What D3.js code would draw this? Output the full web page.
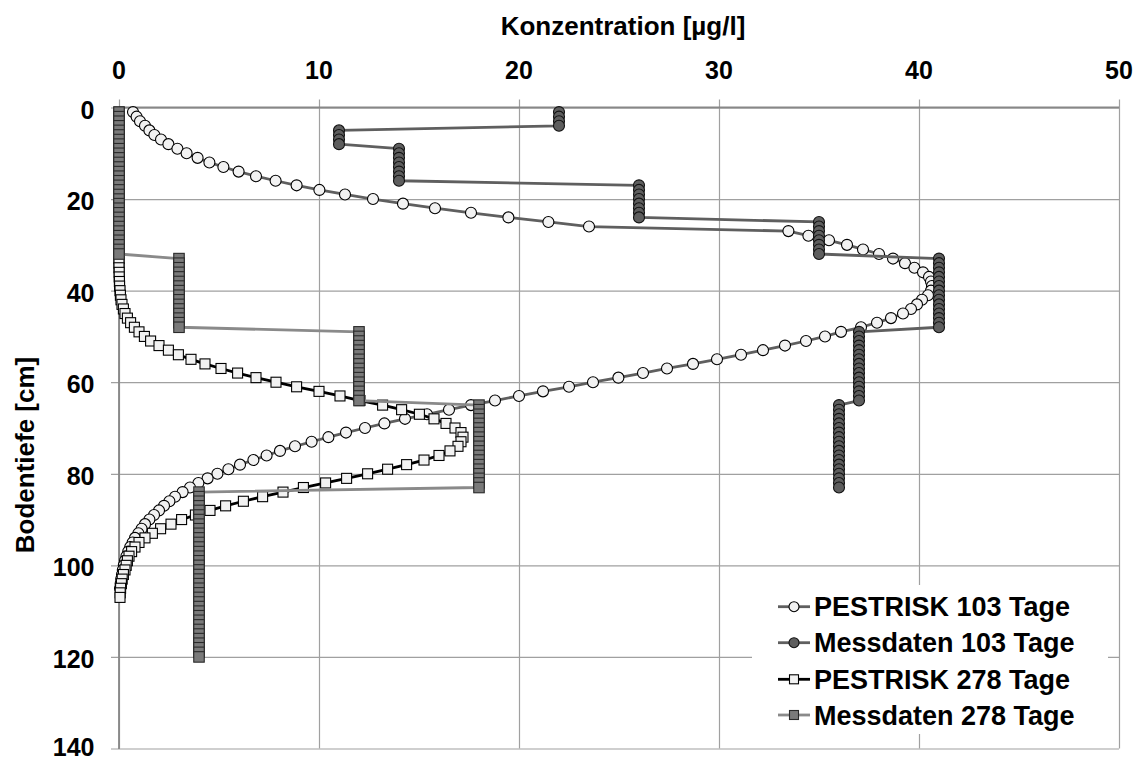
<!DOCTYPE html>
<html>
<head>
<meta charset="utf-8">
<script src="https://cdn.jsdelivr.net/npm/d3@7"></script>
<style>
  html, body { margin: 0; padding: 0; background: #fff; }
  svg { display: block; font-family: "Liberation Sans", Arial, sans-serif; }
</style>
</head>
<body>
<svg id="chart" width="1141" height="760"></svg>
<script>
// ---------------- DATA ----------------
const xTitle = "Konzentration [µg/l]";
const yTitle = "Bodentiefe [cm]";
const xTicks = [0, 10, 20, 30, 40, 50];
const yTicks = [0, 20, 40, 60, 80, 100, 120, 140];
const seriesNames = ["PESTRISK 103 Tage", "Messdaten 103 Tage", "PESTRISK 278 Tage", "Messdaten 278 Tage"];

// depth [cm] for each value (index i -> depth i+1)
const depthCm = [
  1,2,3,4,5,6,7,8,9,10,11,12,13,14,15,16,17,18,19,20,
  21,22,23,24,25,26,27,28,29,30,31,32,33,34,35,36,37,38,39,40,
  41,42,43,44,45,46,47,48,49,50,51,52,53,54,55,56,57,58,59,60,
  61,62,63,64,65,66,67,68,69,70,71,72,73,74,75,76,77,78,79,80,
  81,82,83,84,85,86,87,88,89,90,91,92,93,94,95,96,97,98,99,100,
  101,102,103,104,105,106,107,108,109,110,111,112,113,114,115,116,117,118,119,120
];

// PESTRISK 103 Tage (depth 1..105)
const pestrisk103 = [
  0.7,0.88,1.05,1.3,1.52,1.77,2.1,2.47,2.92,3.38,3.93,4.52,5.22,5.98,6.85,7.83,8.88,10.02,11.3,12.7,
  14.2,15.8,17.6,19.47,21.47,23.5,33.47,34.47,35.5,36.4,37.2,38.0,38.7,39.3,39.77,40.2,40.5,40.6,40.65,40.6,
  40.45,40.15,39.9,39.6,39.2,38.6,37.9,37.1,36.1,35.3,34.35,33.3,32.2,31.1,29.9,28.7,27.4,26.2,24.97,23.7,
  22.5,21.2,20.0,18.8,17.6,16.5,15.4,14.3,13.27,12.3,11.35,10.47,9.63,8.8,8.05,7.38,6.72,6.05,5.47,4.92,
  4.43,3.97,3.55,3.18,2.8,2.52,2.25,2.0,1.75,1.52,1.3,1.13,0.97,0.8,0.68,0.56,0.46,0.37,0.3,0.24,
  0.19,0.15,0.11,0.08,0.05
];

// Messdaten 103 Tage (depth 1..83)
const mess103 = [
  22,22,22,22,11,11,11,11,14,14,14,14,14,14,14,14,26,26,26,26,
  26,26,26,26,35,35,35,35,35,35,35,35,41,41,41,41,41,41,41,41,
  41,41,41,41,41,41,41,41,37,37,37,37,37,37,37,37,37,37,37,37,
  37,37,37,37,36,36,36,36,36,36,36,36,36,36,36,36,36,36,36,36,
  36,36,36
];

// PESTRISK 278 Tage (depth 1..107)
const pestrisk278 = [
  0,0,0,0,0,0,0,0,0,0,0,0,0,0,0,0,0,0,0,0,
  0,0,0,0,0,0,0,0,0,0,0,0,0,0,0,0.01,0.01,0.02,0.03,0.05,
  0.07,0.1,0.15,0.22,0.3,0.42,0.58,0.77,1.0,1.27,1.58,2.0,2.47,2.97,3.6,4.3,5.1,5.93,6.85,7.85,
  8.88,10.0,11.05,12.05,13.18,14.13,15.02,15.75,16.35,16.8,17.1,17.2,17.1,16.95,16.55,16.0,15.25,14.38,13.43,12.43,
  11.38,10.33,9.22,8.2,7.18,6.22,5.33,4.55,3.82,3.13,2.6,2.08,1.67,1.3,1.0,0.8,0.63,0.5,0.42,0.36,
  0.3,0.22,0.16,0.12,0.08,0.06,0.05
];

// Messdaten 278 Tage (depth 1..120)
const mess278 = [
  0,0,0,0,0,0,0,0,0,0,0,0,0,0,0,0,0,0,0,0,
  0,0,0,0,0,0,0,0,0,0,0,0,3,3,3,3,3,3,3,3,
  3,3,3,3,3,3,3,3,12,12,12,12,12,12,12,12,12,12,12,12,
  12,12,12,12,18,18,18,18,18,18,18,18,18,18,18,18,18,18,18,18,
  18,18,18,4,4,4,4,4,4,4,4,4,4,4,4,4,4,4,4,4,
  4,4,4,4,4,4,4,4,4,4,4,4,4,4,4,4,4,4,4,4
];

// ---------------- CHART ----------------
const svg = d3.select("#chart");
const plot = { left: 119, right: 1119, top: 107.5, bottom: 748.5 };

const x = d3.scaleLinear().domain([0, 50]).range([plot.left, plot.right]);
const y = d3.scaleLinear().domain([0, 140]).range([plot.top, plot.bottom]);

const gridCol = "#a0a0a0";
const axisCol = "#878787";

// vertical gridlines + top tick marks
const gx = svg.append("g").attr("transform", `translate(0,${plot.top})`)
  .call(d3.axisTop(x).tickValues(xTicks).tickSizeInner(8).tickSizeOuter(0).tickFormat(""));
gx.selectAll(".tick line").attr("y1", plot.bottom - plot.top).attr("stroke", gridCol).attr("stroke-width", 1.2);
gx.select(".domain").remove();

// horizontal gridlines + left tick marks
const gy = svg.append("g").attr("transform", `translate(${plot.left},0)`)
  .call(d3.axisLeft(y).tickValues(yTicks).tickSizeInner(8).tickSizeOuter(0).tickFormat(""));
gy.selectAll(".tick line").attr("x1", plot.right - plot.left).attr("stroke", gridCol).attr("stroke-width", 1.2);
gy.select(".domain").remove();

// axis lines
svg.append("line").attr("x1", plot.left).attr("x2", plot.right).attr("y1", plot.top).attr("y2", plot.top)
  .attr("stroke", axisCol).attr("stroke-width", 1.8);
svg.append("line").attr("x1", plot.left).attr("x2", plot.left).attr("y1", plot.top).attr("y2", plot.bottom + 0.5)
  .attr("stroke", axisCol).attr("stroke-width", 1.8);

// tick labels
svg.append("g").selectAll("text").data(xTicks).join("text")
  .attr("x", d => x(d)).attr("y", 78.5)
  .attr("text-anchor", "middle").attr("font-size", 25).attr("font-weight", "bold").attr("fill", "#000")
  .text(d => d);
svg.append("g").selectAll("text").data(yTicks).join("text")
  .attr("x", 94.5).attr("y", d => Math.min(y(d) + 11, 756))
  .attr("text-anchor", "end").attr("font-size", 25).attr("font-weight", "bold").attr("fill", "#000")
  .text(d => d);

// titles
svg.append("text").attr("x", 623).attr("y", 34.5).attr("text-anchor", "middle")
  .attr("font-size", 26).attr("font-weight", "bold").text(xTitle);
svg.append("text").attr("transform", "translate(34,455) rotate(-90)").attr("text-anchor", "middle")
  .attr("font-size", 26).attr("font-weight", "bold").text(yTitle);

// series
function pts(vals) { return vals.map((v, i) => ({ c: v, d: depthCm[i] })); }
const line = d3.line().x(p => x(p.c)).y(p => y(p.d));

const styles = [
  { vals: pestrisk103, line: "#5f5f5f", lw: 2.8, shape: "circle", fill: "#f2f2f2", stroke: "#000", size: 11 },
  { vals: mess103,     line: "#5f5f5f", lw: 2.8, shape: "circle", fill: "#5e5e5e", stroke: "#111", size: 11 },
  { vals: pestrisk278, line: "#000000", lw: 2.8, shape: "square", fill: "#f2f2f2", stroke: "#000", size: 10 },
  { vals: mess278,     line: "#8a8a8a", lw: 2.8, shape: "square", fill: "#7a7a7a", stroke: "#2a2a2a", size: 10.5 }
];

styles.forEach(s => {
  const g = svg.append("g");
  const data = pts(s.vals);
  g.append("path").datum(data).attr("d", line).attr("fill", "none")
    .attr("stroke", s.line).attr("stroke-width", s.lw).attr("stroke-linejoin", "round");
  if (s.shape === "circle") {
    g.selectAll("circle").data(data).join("circle")
      .attr("cx", p => x(p.c)).attr("cy", p => y(p.d)).attr("r", s.size / 2)
      .attr("fill", s.fill).attr("stroke", s.stroke).attr("stroke-width", 1.1);
  } else {
    g.selectAll("rect").data(data).join("rect")
      .attr("x", p => x(p.c) - s.size / 2).attr("y", p => y(p.d) - s.size / 2)
      .attr("width", s.size).attr("height", s.size)
      .attr("fill", s.fill).attr("stroke", s.stroke).attr("stroke-width", 1.1);
  }
});

// legend
const lg = svg.append("g");
lg.append("rect").attr("x", 752).attr("y", 585).attr("width", 356).attr("height", 149).attr("fill", "#fff");
const legendY = [606.7, 642.7, 679.3, 715];
styles.forEach((s, i) => {
  const cy = legendY[i];
  lg.append("line").attr("x1", 778).attr("x2", 810).attr("y1", cy).attr("y2", cy)
    .attr("stroke", s.line).attr("stroke-width", s.lw);
  if (s.shape === "circle") {
    lg.append("circle").attr("cx", 794).attr("cy", cy).attr("r", 5)
      .attr("fill", s.fill).attr("stroke", s.stroke).attr("stroke-width", 1.1);
  } else {
    lg.append("rect").attr("x", 789.5).attr("y", cy - 4.5).attr("width", 9).attr("height", 9)
      .attr("fill", s.fill).attr("stroke", s.stroke).attr("stroke-width", 1.1);
  }
  lg.append("text").attr("x", 814).attr("y", cy + 9.6)
    .attr("font-size", 27).attr("font-weight", "bold").attr("fill", "#000").text(seriesNames[i]);
});
</script>
</body>
</html>
